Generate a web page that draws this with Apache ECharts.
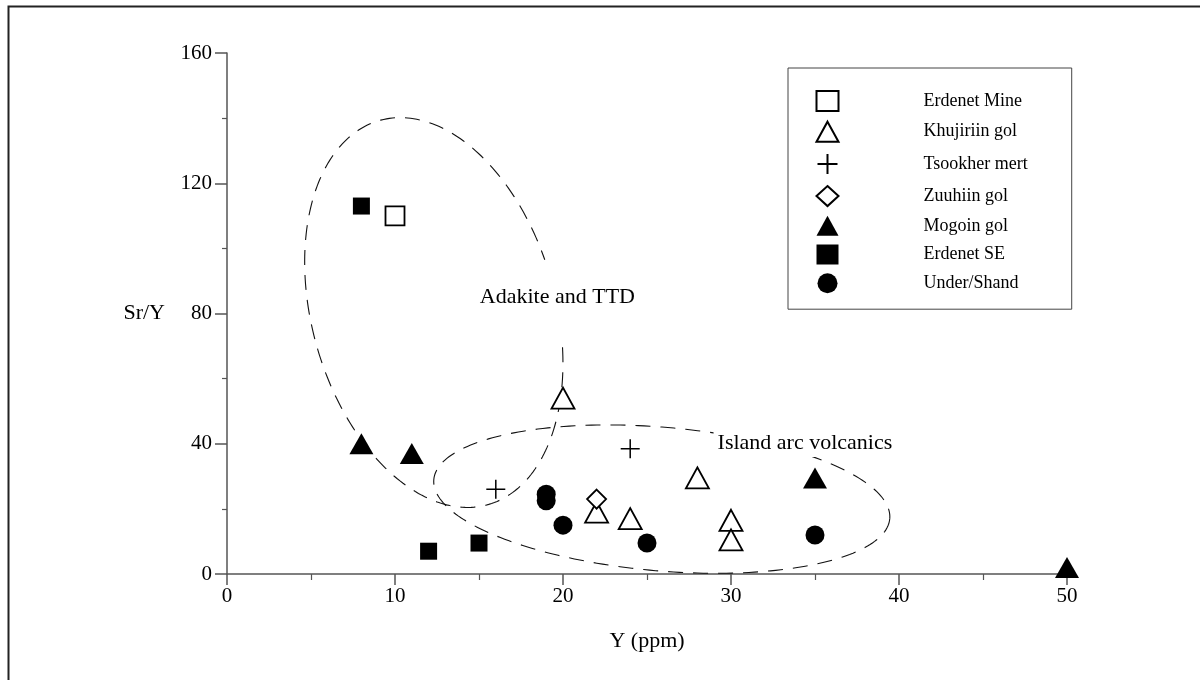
<!DOCTYPE html>
<html>
<head>
<meta charset="utf-8">
<title>Sr/Y vs Y</title>
<script src="https://cdn.jsdelivr.net/npm/echarts@6/dist/echarts.min.js"></script>
<style>
  html, body { margin: 0; padding: 0; background: #fff; }
  #chart { width: 1200px; height: 680px; }
</style>
</head>
<body>
<div id="chart"></div>
<script>
// Sample groups (Y ppm, Sr/Y)
const seriesNames = ['Erdenet Mine', 'Khujiriin gol', 'Tsookher mert', 'Zuuhiin gol', 'Mogoin gol', 'Erdenet SE', 'Under/Shand'];
const erdenetMine = [[10, 110]];
const khujiriinGol = [[20, 54], [22, 19], [24, 17], [28, 29.5], [30, 16.5], [30, 10.5]];
const tsookherMert = [[16, 26], [24, 38.5]];
const zuuhiinGol = [[22, 23]];
const mogoinGol = [[8, 40], [11, 37], [35, 29.5], [50, 2]];
const erdenetSE = [[8, 113], [12, 7], [15, 9.5]];
const underShand = [[19, 24.5], [19, 22.5], [20, 15], [25, 9.5], [35, 12]];

// Axis ticks
const xTickValues = [0, 10, 20, 30, 40, 50];
const yTickValues = [0, 40, 80, 120, 160];

// Field labels
const fieldLabels = ['Adakite and TTD', 'Island arc volcanics'];

const FONT = '"Liberation Serif", "Times New Roman", Times, serif';
const INK = '#000';

// Discrimination fields, outlined as ellipses in data space:
// centre, conjugate semi-axis vectors u and v, drawn span (degrees) and label anchor.
const fields = [
  { label: fieldLabels[0], c: [12.31, 80.3], u: [3.22, -59.0], v: [-6.98, -10.1],
    from: -70, to: 264, labelAt: [15.05, 84.9], knockout: false },
  { label: fieldLabels[1], c: [25.88, 23.0], u: [13.57, -6.0], v: [-0.366, -21.98],
    from: 0, to: 360, labelAt: [29.2, 40.2], knockout: true }
];

function fieldRenderer(field) {
  return function (params, api) {
    const pts = [];
    const steps = 240;
    for (let i = 0; i <= steps; i++) {
      const t = (field.from + (field.to - field.from) * i / steps) * Math.PI / 180;
      const x = field.c[0] + field.u[0] * Math.cos(t) + field.v[0] * Math.sin(t);
      const y = field.c[1] + field.u[1] * Math.cos(t) + field.v[1] * Math.sin(t);
      pts.push(api.coord([x, y]));
    }
    const lp = api.coord(field.labelAt);
    const textStyle = { text: field.label, fill: INK, font: '22px ' + FONT, align: 'left', verticalAlign: 'middle' };
    if (field.knockout) {
      // white box so the outline breaks behind the label
      textStyle.backgroundColor = '#fff';
      textStyle.padding = [3, 4, 3, 4];
    }
    return {
      type: 'group',
      children: [
        { type: 'polyline', shape: { points: pts },
          style: { stroke: '#111', fill: null, lineWidth: 1.1, lineDash: [15, 10] } },
        { type: 'text', x: lp[0] - (field.knockout ? 4 : 0), y: lp[1], z2: 10, style: textStyle }
      ]
    };
  };
}

const hollow = { color: '#fff', borderColor: INK, borderWidth: 1.8, opacity: 1 };
const solid = { color: INK, borderColor: INK, borderWidth: 0, opacity: 1 };
const plusPath = 'path://M0,10 L20,10 M10,0 L10,20';

const scatterSeries = [
  { name: seriesNames[0], data: erdenetMine, symbol: 'rect', symbolSize: 19, itemStyle: hollow },
  { name: seriesNames[1], data: khujiriinGol, symbol: 'triangle', symbolSize: [23, 21], itemStyle: hollow },
  { name: seriesNames[2], data: tsookherMert, symbol: plusPath, symbolSize: 19,
    itemStyle: { color: 'none', borderColor: INK, borderWidth: 1.5, opacity: 1 } },
  { name: seriesNames[3], data: zuuhiinGol, symbol: 'diamond', symbolSize: 19, itemStyle: hollow },
  { name: seriesNames[4], data: mogoinGol, symbol: 'triangle', symbolSize: [24, 21], itemStyle: solid },
  { name: seriesNames[5], data: erdenetSE, symbol: 'rect', symbolSize: 17, itemStyle: solid },
  { name: seriesNames[6], data: underShand, symbol: 'circle', symbolSize: 19, itemStyle: solid }
].map(s => Object.assign({ type: 'scatter', z: 3, emphasis: { disabled: true } }, s));

const fieldSeries = fields.map(f => ({
  type: 'custom', silent: true, z: 2, clip: false,
  data: [[f.c[0], f.c[1]]],
  renderItem: fieldRenderer(f)
}));

const axisLineStyle = { color: '#555', width: 1.5 };

const chart = echarts.init(document.getElementById('chart'), null, { renderer: 'canvas' });
chart.setOption({
  animation: false,
  backgroundColor: '#fff',
  textStyle: { fontFamily: FONT },
  graphic: [{
    type: 'rect', left: 6, top: 4, silent: true,
    shape: { width: 1193, height: 690 },
    style: { fill: null, stroke: '#222', lineWidth: 2 }
  }],
  grid: { left: 227, right: 133, top: 53, bottom: 106 },
  legend: {
    orient: 'vertical', left: 788, top: 68,
    data: seriesNames,
    borderColor: '#444', borderWidth: 1,
    padding: [22, 44, 16, 27],
    itemGap: 8.7, itemWidth: 22, itemHeight: 20,
    selectedMode: false,
    textStyle: { fontFamily: FONT, fontSize: 18, color: INK, padding: [0, 0, 0, 80] }
  },
  xAxis: {
    type: 'value',
    min: xTickValues[0], max: xTickValues[xTickValues.length - 1],
    interval: xTickValues[1] - xTickValues[0],
    name: 'Y (ppm)', nameLocation: 'middle', nameGap: 56,
    nameTextStyle: { fontFamily: FONT, fontSize: 22, color: INK },
    axisLine: { lineStyle: axisLineStyle },
    axisTick: { inside: false, length: 11, lineStyle: axisLineStyle },
    minorTick: { show: true, splitNumber: 2, length: 6, lineStyle: { color: '#555', width: 1.2 } },
    splitLine: { show: false },
    axisLabel: { fontFamily: FONT, fontSize: 21, color: INK, margin: 12 }
  },
  yAxis: {
    type: 'value',
    min: yTickValues[0], max: yTickValues[yTickValues.length - 1],
    interval: yTickValues[1] - yTickValues[0],
    name: 'Sr/Y', nameLocation: 'middle', nameGap: 62, nameRotate: 0,
    nameTextStyle: { fontFamily: FONT, fontSize: 22, color: INK },
    axisLine: { lineStyle: axisLineStyle },
    axisTick: { inside: false, length: 12, lineStyle: axisLineStyle },
    minorTick: { show: true, splitNumber: 2, length: 5, lineStyle: { color: '#555', width: 1.2 } },
    splitLine: { show: false },
    axisLabel: { fontFamily: FONT, fontSize: 21, color: INK, margin: 15 }
  },
  series: fieldSeries.concat(scatterSeries)
});
</script>
</body>
</html>
